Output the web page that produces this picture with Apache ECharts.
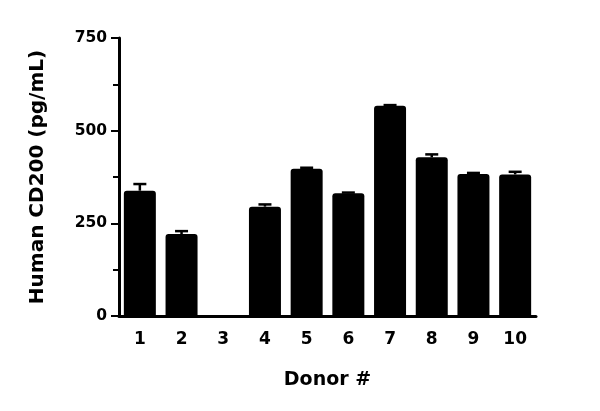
<!DOCTYPE html>
<html><head><meta charset="utf-8">
<script src="https://cdn.jsdelivr.net/npm/echarts@6/dist/echarts.min.js"></script>
<style>html,body{margin:0;padding:0;background:#fff}#c{width:600px;height:411px}</style>
</head><body><div id="c"></div>
<script>
const categories = ['1','2','3','4','5','6','7','8','9','10'];
const values = [338, 221, 0, 295, 397, 331, 567, 428, 383, 382];
const errors = [18, 8, 0, 6, 3, 2, 2, 8, 3, 7];
const yTicks = [0, 250, 500, 750];

const font = '"DejaVu Sans", sans-serif';
const chart = echarts.init(document.getElementById('c'), null, {renderer: 'canvas'});
chart.setOption({
  animation: false,
  grid: {left: 119, right: 64, top: 38, bottom: 95},
  xAxis: {
    type: 'category', data: categories, boundaryGap: true,
    name: 'Donor #', nameLocation: 'middle', nameGap: 55,
    nameTextStyle: {fontFamily: font, fontWeight: 'bold', fontSize: 19, color: '#000'},
    axisLine: {lineStyle: {color: '#000', width: 3}},
    axisTick: {alignWithLabel: true, length: 7, lineStyle: {color: '#000', width: 2}},
    axisLabel: {fontFamily: font, fontWeight: 'bold', fontSize: 17, color: '#000', margin: 15}
  },
  yAxis: {
    type: 'value', min: 0, max: 750, interval: 250,
    name: 'Human CD200 (pg/mL)', nameLocation: 'middle', nameGap: 71, nameRotate: 90,
    nameTextStyle: {fontFamily: font, fontWeight: 'bold', fontSize: 20, color: '#000'},
    axisLine: {show: true, lineStyle: {color: '#000', width: 3}},
    axisTick: {show: true, length: 8, lineStyle: {color: '#000', width: 2}},
    minorTick: {show: true, splitNumber: 2, length: 6, lineStyle: {color: '#000', width: 2}},
    splitLine: {show: false},
    axisLabel: {fontFamily: font, fontWeight: 'bold', fontSize: 15.5, color: '#000', margin: 12,
      formatter: v => yTicks.includes(v) ? String(v) : ''}
  },
  series: [
    {
      type: 'custom', z: 1,
      renderItem: function (params, api) {
        const i = api.value(0);
        const v = api.value(1), e = api.value(2);
        if (!v) return;
        const base = api.coord([i, v]);
        const top = api.coord([i, v + e]);
        const hw = 6.5;
        return {type: 'group', children: [
          {type: 'line', shape: {x1: base[0], y1: base[1], x2: top[0], y2: top[1]}, style: {stroke: '#000', lineWidth: 2.5}},
          {type: 'line', shape: {x1: top[0] - hw, y1: top[1], x2: top[0] + hw, y2: top[1]}, style: {stroke: '#000', lineWidth: 2.5}}
        ]};
      },
      data: values.map((v, i) => [i, v, errors[i]])
    },
    {
      type: 'bar', z: 2, data: values, barWidth: 32,
      itemStyle: {color: '#000', borderRadius: [3, 3, 0, 0]}
    }
  ]
});
</script></body></html>
